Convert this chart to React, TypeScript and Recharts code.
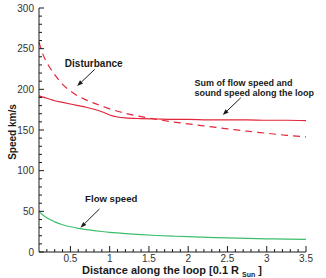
import React from "react";
import { LineChart, Line, XAxis, YAxis, ReferenceLine, ReferenceDot, Label } from "recharts";

// Distance along the loop, in units of 0.1 R_sun
const distance = [0.1, 0.15, 0.2, 0.25, 0.3, 0.4, 0.5, 0.6, 0.7, 0.8, 0.9, 1.0, 1.1, 1.2, 1.4, 1.6, 1.8, 2.0, 2.25, 2.5, 2.75, 3.0, 3.25, 3.5];

// speeds in km/s
const sumSpeed = [192, 190.5, 189, 187.5, 186, 184, 182, 180, 178, 175.5, 172.5, 168.5, 166, 164.8, 164, 163.5, 163, 163, 162.5, 162.5, 162.5, 162, 162, 161.5];
const disturbance = [258, 243, 233, 225, 218, 206, 198, 191.5, 187, 183, 179.5, 176, 173, 170.5, 166.5, 163, 160, 157.5, 154.5, 151.5, 148.5, 146, 143.5, 141.5];
const flowSpeed = [50, 45.5, 42, 39.5, 37, 33.5, 31, 29, 27.5, 26.3, 25.2, 24.2, 23.4, 22.7, 21.4, 20.3, 19.5, 18.8, 18, 17.3, 16.7, 16.2, 15.8, 15.5];

const xMajor = [0.5, 1, 1.5, 2, 2.5, 3, 3.5];
const yMajor = [0, 50, 100, 150, 200, 250, 300];
// minor ticks every 0.1 (x) and every 10 (y)
const xTicks = Array.from({ length: 34 }, (_, i) => (i + 2) / 10);
const yTicks = Array.from({ length: 31 }, (_, i) => i * 10);

const FONT = "'Liberation Sans', Arial, Helvetica, sans-serif";
const RED = "#e3263a";
const GREEN = "#3cbf6c";
const INK = "#1a1a1a";

const data = distance.map((d, i) => ({
  d,
  sum: sumSpeed[i],
  dist: disturbance[i],
  flow: flowSpeed[i],
}));

function XTick({ x, y, payload }: any) {
  const v = payload.value;
  const major = xMajor.some((m) => Math.abs(m - v) < 1e-6);
  return (
    <g>
      <line x1={x} x2={x} y1={y} y2={y - (major ? 6 : 3)} stroke={INK} strokeWidth={1} />
      {major && (
        <text x={x} y={y + 9.5} textAnchor="middle" fontSize={10} fontFamily={FONT} fill="#333">
          {String(v)}
        </text>
      )}
    </g>
  );
}

function YTick({ x, y, payload }: any) {
  const v = payload.value;
  const major = yMajor.includes(v);
  return (
    <g>
      <line x1={x} x2={x + (major ? 5 : 3)} y1={y} y2={y} stroke={INK} strokeWidth={1} />
      {major && (
        <text x={x - 5} y={y + 3.5} textAnchor="end" fontSize={10} fontFamily={FONT} fill="#333">
          {String(v)}
        </text>
      )}
    </g>
  );
}

// annotation arrow: thin line + small filled head at (x2, y2)
function Arrow(props: any) {
  const { x1, y1, x2, y2 } = props;
  const a = Math.atan2(y2 - y1, x2 - x1);
  const len = 6;
  const half = 2.2;
  const bx = x2 - len * Math.cos(a);
  const by = y2 - len * Math.sin(a);
  const px = -Math.sin(a) * half;
  const py = Math.cos(a) * half;
  return (
    <g>
      <line x1={x1} y1={y1} x2={bx} y2={by} stroke={INK} strokeWidth={1} />
      <polygon points={`${x2},${y2} ${bx + px},${by + py} ${bx - px},${by - py}`} fill={INK} />
    </g>
  );
}

function note(lines: string[], size: number, anchor: "start" | "middle") {
  return (p: any) => (
    <text x={p.cx} y={p.cy} textAnchor={anchor} fontSize={size} fontWeight="bold" fontFamily={FONT} fill={INK}>
      {lines.map((t, i) => (
        <tspan key={i} x={p.cx} dy={i === 0 ? 0 : 10}>
          {t}
        </tspan>
      ))}
    </text>
  );
}

export default function App() {
  return (
    <div style={{ position: "absolute", left: 0, top: 0, width: 326, height: 278, background: "#fff" }}>
      <LineChart width={326} height={278} data={data} margin={{ top: 8, right: 20, bottom: 0, left: 0 }}>
        <XAxis
          dataKey="d"
          type="number"
          domain={[0.1, 3.5]}
          ticks={xTicks}
          interval={0}
          height={26}
          tickSize={0}
          tickMargin={0}
          tickLine={false}
          axisLine={{ stroke: INK }}
          tick={<XTick />}
        >
          <Label
            content={() => (
              <text x={172} y={274} textAnchor="middle" fontSize={11} fontWeight="bold" fontFamily={FONT} fill={INK}>
                Distance along the loop [0.1 R
                <tspan dx={3} dy={2.5} fontSize={7}>
                  Sun
                </tspan>
                <tspan dy={-2.5} fontSize={11}>
                  {" ]"}
                </tspan>
              </text>
            )}
          />
        </XAxis>
        <YAxis
          type="number"
          domain={[0, 300]}
          ticks={yTicks}
          interval={0}
          width={39}
          tickSize={0}
          tickMargin={0}
          tickLine={false}
          axisLine={{ stroke: INK }}
          tick={<YTick />}
        >
          <Label
            content={() => (
              <text
                transform="translate(15.5,132) rotate(-90)"
                textAnchor="middle"
                fontSize={10}
                fontWeight="bold"
                fontFamily={FONT}
                fill={INK}
              >
                Speed km/s
              </text>
            )}
          />
        </YAxis>
        <Line type="monotone" dataKey="sum" stroke={RED} strokeWidth={1.2} dot={false} isAnimationActive={false} />
        <Line
          type="monotone"
          dataKey="dist"
          stroke={RED}
          strokeWidth={1.2}
          strokeDasharray="7 5"
          dot={false}
          isAnimationActive={false}
        />
        <Line type="monotone" dataKey="flow" stroke={GREEN} strokeWidth={1.2} dot={false} isAnimationActive={false} />

        <ReferenceLine segment={[{ x: 0.81, y: 224.6 }, { x: 0.586, y: 204 }]} shape={Arrow} />
        <ReferenceLine segment={[{ x: 2.67, y: 189.7 }, { x: 2.44, y: 168.4 }]} shape={Arrow} />
        <ReferenceLine segment={[{ x: 0.87, y: 52.9 }, { x: 0.628, y: 29.9 }]} shape={Arrow} />

        <ReferenceDot x={0.797} y={227.5} shape={note(["Disturbance"], 10, "middle")} />
        <ReferenceDot
          x={2.08}
          y={203.5}
          shape={note(["Sum of flow speed and", "sound speed along the loop"], 9, "start")}
        />
        <ReferenceDot x={1.02} y={61.5} shape={note(["Flow speed"], 9.6, "middle")} />
      </LineChart>
    </div>
  );
}
